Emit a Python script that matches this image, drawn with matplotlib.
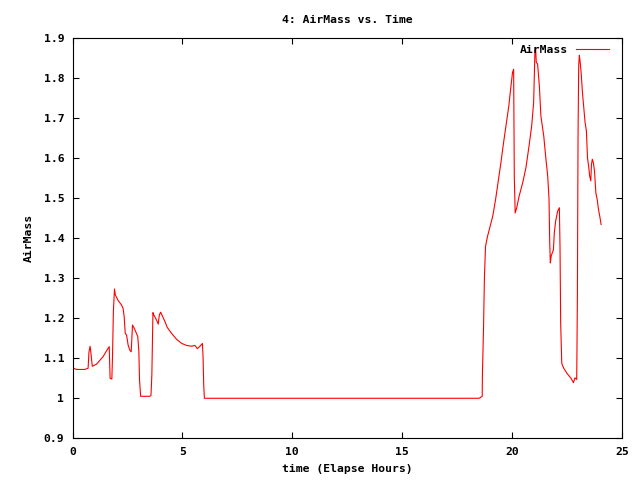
import matplotlib
matplotlib.use("Agg")
import matplotlib.pyplot as plt
from matplotlib.ticker import FuncFormatter

hours = [0.05, 0.18, 0.56, 0.71, 0.75, 0.80, 0.83, 0.88, 0.90, 1.09, 1.39, 1.62, 1.67, 1.71, 1.79,
         1.82, 1.86, 1.91, 1.95, 2.08, 2.23, 2.30, 2.35, 2.40, 2.46, 2.53, 2.61, 2.67, 2.70, 2.73,
         2.79, 2.88, 2.97, 3.02, 3.05, 3.10, 3.52, 3.57, 3.61, 3.66, 3.70, 3.78, 3.86, 3.90, 3.95,
         4.01, 4.07, 4.21, 4.31, 4.51, 4.74, 4.97, 5.19, 5.42, 5.57, 5.68, 5.80, 5.91, 5.94, 5.97,
         6.00, 18.50, 18.58, 18.64, 18.65, 18.70, 18.74, 18.79, 18.88, 19.00, 19.12, 19.25, 19.37,
         19.49, 19.61, 19.73, 19.85, 19.94, 20.02, 20.07, 20.10, 20.14, 20.21, 20.32, 20.48, 20.63,
         20.78, 20.89, 20.98, 21.04, 21.07, 21.10, 21.16, 21.24, 21.31, 21.44, 21.54, 21.62, 21.68,
         21.71, 21.74, 21.78, 21.88, 21.92, 21.98, 22.07, 22.15, 22.18, 22.21, 22.26, 22.35, 22.50,
         22.68, 22.79, 22.86, 22.94, 22.97, 23.00, 23.03, 23.06, 23.09, 23.14, 23.20, 23.26, 23.32,
         23.38, 23.43, 23.49, 23.53, 23.58, 23.61, 23.65, 23.70, 23.75, 23.81, 23.87, 23.93, 24.00,
         24.05]
airmass = [1.075, 1.072, 1.072, 1.075, 1.116, 1.130, 1.117, 1.091, 1.080, 1.085, 1.104, 1.125, 1.129,
           1.050, 1.048, 1.104, 1.217, 1.273, 1.258, 1.244, 1.233, 1.225, 1.204, 1.162, 1.158, 1.133,
           1.120, 1.116, 1.150, 1.183, 1.177, 1.166, 1.154, 1.116, 1.045, 1.005, 1.005, 1.007, 1.058,
           1.214, 1.208, 1.200, 1.191, 1.185, 1.208, 1.215, 1.208, 1.191, 1.177, 1.162, 1.147, 1.137,
           1.132, 1.130, 1.132, 1.124, 1.130, 1.137, 1.104, 1.033, 1.000, 1.000, 1.003, 1.005, 1.062,
           1.175, 1.300, 1.379, 1.404, 1.430, 1.455, 1.497, 1.543, 1.588, 1.638, 1.684, 1.730, 1.776,
           1.814, 1.822, 1.555, 1.463, 1.476, 1.505, 1.538, 1.576, 1.634, 1.680, 1.739, 1.868, 1.876,
           1.839, 1.835, 1.780, 1.705, 1.655, 1.597, 1.555, 1.497, 1.392, 1.338, 1.356, 1.371, 1.413,
           1.442, 1.467, 1.476, 1.379, 1.187, 1.087, 1.075, 1.062, 1.050, 1.039, 1.051, 1.047, 1.250,
           1.655, 1.831, 1.857, 1.843, 1.814, 1.764, 1.726, 1.689, 1.668, 1.601, 1.576, 1.555, 1.543,
           1.584, 1.597, 1.588, 1.567, 1.513, 1.497, 1.472, 1.451, 1.434]

xticks = [0, 5, 10, 15, 20, 25]
yticks = [0.9, 1.0, 1.1, 1.2, 1.3, 1.4, 1.5, 1.6, 1.7, 1.8, 1.9]

plt.rcParams['font.family'] = ['DejaVu Sans Mono']
plt.rcParams['font.weight'] = 'bold'
FS = 8.2

fig = plt.figure(figsize=(6.4, 4.8), dpi=100)
L, R, T, B = 72.5, 622.0, 38.0, 438.3
ax = fig.add_axes([L/640, 1 - B/480, (R-L)/640, (B-T)/480])
ax.plot(hours, airmass, color='red', lw=0.8, label='AirMass')
ax.set_xlim(0, 25)
ax.set_ylim(0.9, 1.9)
ax.set_xticks(xticks)
ax.set_yticks(yticks)
ax.yaxis.set_major_formatter(FuncFormatter(lambda v, p: f"{v:g}"))
ax.tick_params(direction='in', length=4, width=0.8, top=True, right=True, labelsize=FS, pad=6,
               colors='black')
for s in ax.spines.values():
    s.set_linewidth(0.8)
ax.set_title('4: AirMass vs. Time', fontsize=FS, pad=11, fontweight='bold')
ax.set_xlabel('time (Elapse Hours)', fontsize=FS, labelpad=5.5, fontweight='bold')
ax.set_ylabel('AirMass', fontsize=FS, labelpad=7, fontweight='bold')
ax.legend(loc='upper right', bbox_to_anchor=(0.985, 0.995), frameon=False, markerfirst=False,
          fontsize=FS, handlelength=2.9, borderaxespad=0, handletextpad=0.7,
          prop={'weight': 'bold', 'size': FS})
fig.savefig('out.png', dpi=100)
